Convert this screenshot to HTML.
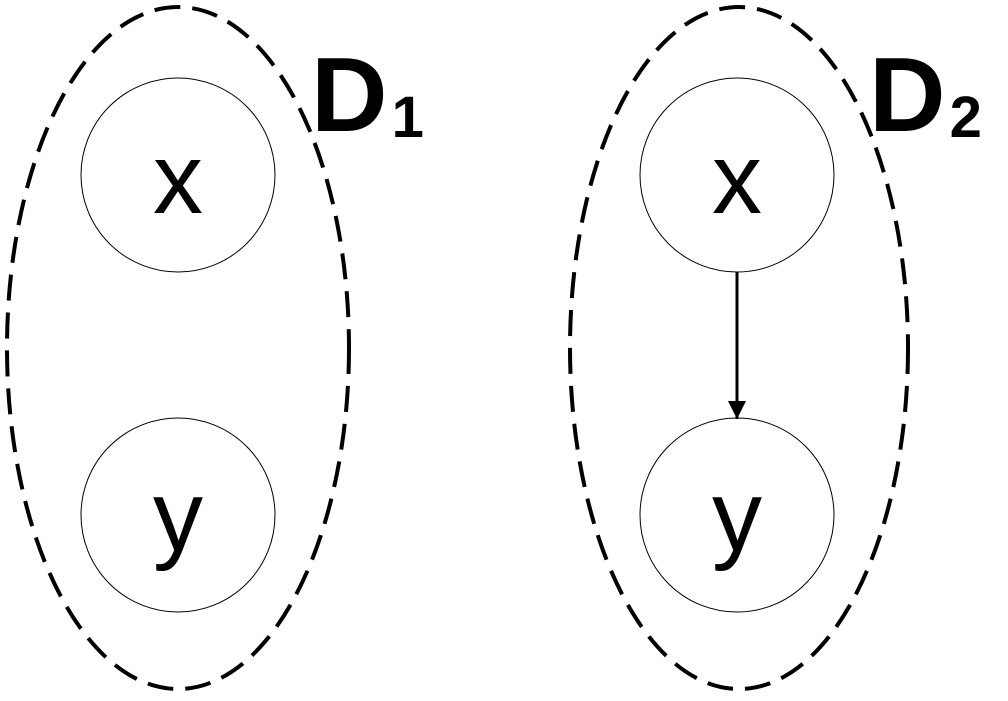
<!DOCTYPE html>
<html><head><style>html,body{margin:0;padding:0;background:#fff}</style></head>
<body>
<svg width="1008" height="696" xmlns="http://www.w3.org/2000/svg">
<defs><marker id="a" markerWidth="18" markerHeight="20" refX="18" refY="9" orient="auto" markerUnits="userSpaceOnUse"><path d="M0,0 L18,9 L0,18 z" fill="#000"/></marker></defs>
<g fill="none" stroke="#000" stroke-width="4" stroke-dasharray="26,12">
<ellipse cx="178" cy="348" rx="171" ry="341"/>
<ellipse cx="739" cy="348" rx="169" ry="341"/>
</g>
<g fill="none" stroke="#000" stroke-width="1">
<circle cx="178" cy="175" r="97"/>
<circle cx="178" cy="515" r="97"/>
<circle cx="737" cy="175" r="97"/>
<circle cx="737" cy="515" r="97"/>
</g>
<line x1="737" y1="272" x2="737" y2="419" stroke="#000" stroke-width="3" marker-end="url(#a)"/>
<g font-family="Liberation Sans, sans-serif" font-size="100" text-anchor="middle">
<text x="178" y="213">x</text>
<text x="178" y="550">y</text>
<text x="737" y="213">x</text>
<text x="737" y="550">y</text>
</g>
<g font-family="Liberation Sans, sans-serif" font-weight="bold">
<text x="311" y="131" font-size="106">D<tspan font-size="58" dx="4" dy="6">1</tspan></text>
<text x="869" y="131" font-size="106">D<tspan font-size="58" dx="4" dy="6">2</tspan></text>
</g>
</svg>
</body></html>
